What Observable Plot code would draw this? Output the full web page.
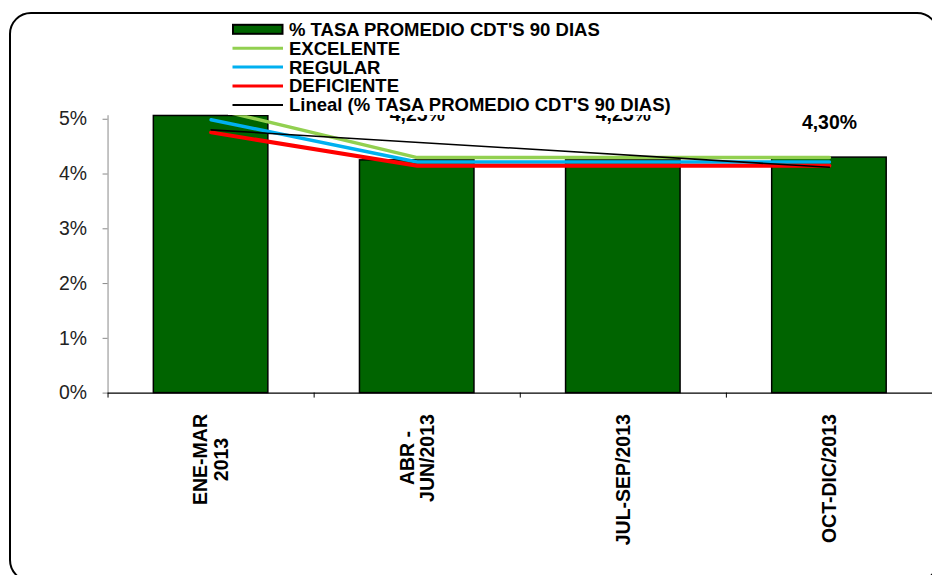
<!DOCTYPE html>
<html>
<head>
<meta charset="utf-8">
<script src="https://cdn.jsdelivr.net/npm/d3@7"></script>
<script src="https://cdn.jsdelivr.net/npm/@observablehq/plot@0.6"></script>
<style>
  html, body { margin: 0; padding: 0; background: #fff; overflow: hidden; }
  #wrap { position: relative; width: 932px; height: 575px; overflow: hidden; font-family: "Liberation Sans", Arial, sans-serif; }
  #frame { position: absolute; left: 9px; top: 12px; width: 930px; height: 570px; border: 2.5px solid #000; border-radius: 22px; box-sizing: border-box; }
  #chart { position: absolute; left: 0; top: 0; }
  #legend { position: absolute; left: 228px; top: 16px; background: #fff; }
</style>
</head>
<body>
<div id="wrap">
  <div id="frame"></div>
  <div id="chart"></div>
  <div id="legend"></div>
</div>
<script>
const categories = ["ENE-MAR\n2013", "ABR -\nJUN/2013", "JUL-SEP/2013", "OCT-DIC/2013"];
const tasa = [5.06, 4.25, 4.25, 4.30];
const tasaLabels = ["5,06%", "4,25%", "4,25%", "4,30%"];
const excelente = [5.2, 4.3, 4.3, 4.3];
const regular = [4.99, 4.22, 4.22, 4.22];
const deficiente = [4.76, 4.15, 4.15, 4.15];
const yTicks = [0, 1, 2, 3, 4, 5];
const seriesNames = ["% TASA PROMEDIO CDT'S 90 DIAS", "EXCELENTE", "REGULAR", "DEFICIENTE", "Lineal (% TASA PROMEDIO CDT'S 90 DIAS)"];

const colors = { bar: "#006400", excelente: "#92D050", regular: "#00B0F0", deficiente: "#FF0000", trend: "#000000" };

const data = categories.map((c, i) => ({ i, cat: c, v: tasa[i], label: tasaLabels[i], ex: excelente[i], re: regular[i], de: deficiente[i] }));

// linear trend of the bar series (least squares over category index)
const n = tasa.length;
const mx = d3.mean(data, d => d.i), my = d3.mean(tasa);
const slope = d3.sum(data, d => (d.i - mx) * (d.v - my)) / d3.sum(data, d => (d.i - mx) ** 2);
const trend = [0, n - 1].map(i => ({ i, t: my + slope * (i - mx) }));

const font = '"Liberation Sans", Arial, sans-serif';

const plot = Plot.plot({
  width: 936,
  height: 575,
  marginLeft: 108,
  marginRight: 0,
  marginTop: 115.7,
  marginBottom: 180.7,
  style: { fontFamily: font, background: "transparent", color: "#222", overflow: "visible" },
  x: { type: "linear", domain: [0, n], axis: null },
  y: { domain: [0, 5.065], axis: null },
  marks: [
    Plot.rect(data, { x1: d => d.i, x2: d => d.i + 1, y1: 0, y2: "v", insetLeft: 46, insetRight: 46, fill: colors.bar, stroke: "#000", strokeWidth: 1.5 }),
    Plot.line(data, { x: d => d.i + 0.5, y: "ex", stroke: colors.excelente, strokeWidth: 3.5, clip: true }),
    Plot.line(data, { x: d => d.i + 0.5, y: "re", stroke: colors.regular, strokeWidth: 3.5, clip: true }),
    Plot.line(data, { x: d => d.i + 0.5, y: "de", stroke: colors.deficiente, strokeWidth: 4, clip: true }),
    Plot.line(trend, { x: d => d.i + 0.5, y: "t", stroke: colors.trend, strokeWidth: 1.6, clip: true }),
    Plot.ruleX([0], { stroke: "#888", strokeWidth: 1 }),
    Plot.axisY({ ticks: yTicks, tickFormat: d => d + "%", tickSize: 5, tickPadding: 16, stroke: "#888", fontSize: 19.5, fill: "#222" }),
    Plot.ruleY([0], { stroke: "#000", strokeWidth: 1.2 }),
    Plot.axisX({ ticks: d3.range(0, n + 1), tickFormat: () => "", tickSize: 5, stroke: "#000" }),
    Plot.text(data, { x: d => d.i + 0.5, y: 0, text: "cat", rotate: -90, textAnchor: "middle", lineHeight: 1.05, dy: 21, fontWeight: "bold", fontSize: 19.6, fill: "#000", className: "catlabel" }),
    Plot.text(data.filter(d => d.i > 0 && d.i < n - 1), { x: d => d.i + 0.5, y: "v", text: "label", dy: -46, fontWeight: "bold", fontSize: 19.5, fill: "#000" }),
    Plot.text(data.filter(d => d.i === n - 1), { x: d => d.i + 0.5, y: "v", text: "label", dy: -35, fontWeight: "bold", fontSize: 19.5, fill: "#000" })
  ]
});
document.getElementById("chart").appendChild(plot);

// align rotated category labels so their top end sits just below the axis (lines centred to each other)
d3.select(plot).selectAll("g.catlabel text").each(function () {
  const w = this.getBBox().width;
  const t = this.getAttribute("transform") || "";
  this.setAttribute("transform", t + ` translate(${-w / 2},0)`);
});

// legend
const rowH = 18.9;
const lg = d3.select("#legend").append("svg").attr("width", 470).attr("height", 99)
  .style("font-family", font).style("display", "block");
const rows = lg.selectAll("g").data(seriesNames).join("g")
  .attr("transform", (d, i) => `translate(0,${13.3 + i * rowH})`);
rows.each(function (d, i) {
  const g = d3.select(this);
  if (i === 0) {
    g.append("rect").attr("x", 5).attr("y", -4.5).attr("width", 49.5).attr("height", 9).attr("fill", colors.bar).attr("stroke", "#000").attr("stroke-width", 2);
  } else {
    const c = [null, colors.excelente, colors.regular, colors.deficiente, colors.trend][i];
    g.append("line").attr("x1", 4.5).attr("x2", 55).attr("y1", 0).attr("y2", 0).attr("stroke", c).attr("stroke-width", i === 4 ? 2 : 3);
  }
  g.append("text").attr("x", 61).attr("y", 0).attr("dy", "0.35em").attr("font-size", 18.5).attr("font-weight", "bold").attr("fill", "#000").text(d);
});
</script>
</body>
</html>
